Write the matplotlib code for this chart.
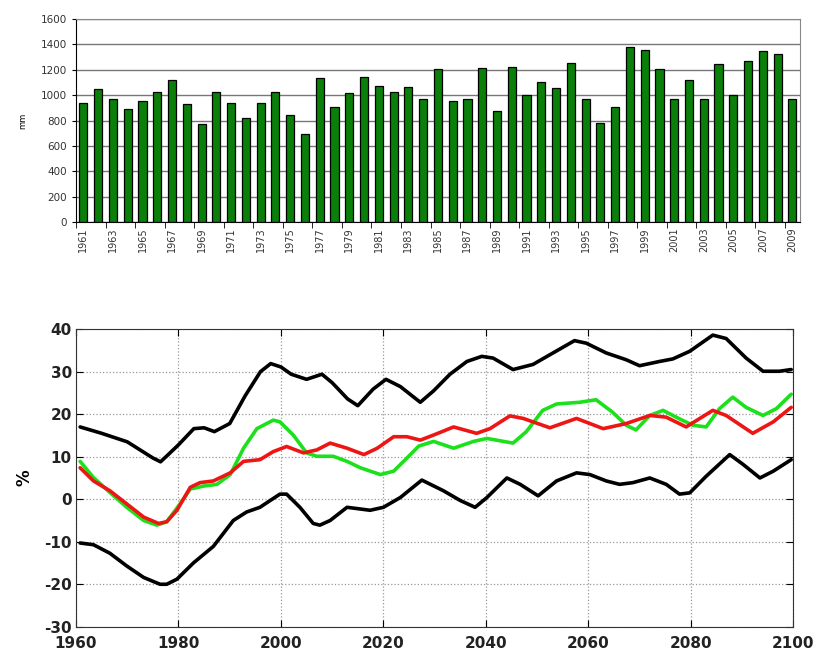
import numpy as np
import matplotlib
matplotlib.use("Agg")
import matplotlib.pyplot as plt

plt.rcParams["axes.unicode_minus"] = False

# ---- top chart: annual precipitation (mm) ----
years = list(range(1961, 2010))
precip = [940, 1045, 971, 895, 955, 1026, 1116, 934, 771, 1024,
          942, 821, 939, 1022, 842, 697, 1134, 908, 1021, 1147,
          1076, 1026, 1066, 971, 1203, 955, 971, 1211, 874, 1224,
          1000, 1105, 1055, 1255, 966, 784, 908, 1379, 1358, 1203,
          971, 1118, 966, 1242, 1000, 1268, 1345, 1324, 971]

# ---- bottom chart: projected change (%) ----
up_yr = [1960.8, 1965, 1970, 1975, 1976.5, 1978, 1980, 1983, 1985, 1987, 1990, 1993,
         1996, 1998, 2000, 2002, 2005, 2008, 2010, 2013, 2015, 2018, 2020.5, 2023.3,
         2027.2, 2029.8, 2033, 2036.3, 2039.2, 2041.4, 2045.3, 2049.2, 2053.1, 2057.3,
         2059.6, 2063.5, 2067.4, 2070, 2073.9, 2076.5, 2079.8, 2084.3, 2086.9, 2090.8,
         2094.1, 2097.3, 2099.6]
up_val = [17, 15.5, 13.5, 9.7, 8.8, 10.5, 12.8, 16.6, 16.8, 15.9, 17.8, 24.3,
          30, 31.9, 31.1, 29.4, 28.2, 29.4, 27.4, 23.6, 22, 25.9, 28.2, 26.5,
          22.8, 25.5, 29.4, 32.4, 33.6, 33.2, 30.5, 31.7, 34.4, 37.3,
          36.7, 34.4, 32.8, 31.4, 32.4, 33, 34.8, 38.6, 37.8, 33.2,
          30.1, 30.1, 30.5]

lo_yr = [1960.8, 1963.4, 1966.6, 1969.9, 1973.2, 1976.4, 1977.7, 1979.7, 1982.9, 1986.8,
         1990.7, 1993.3, 1995.9, 1997.9, 1999.8, 2001.1, 2003.7, 2006.3, 2007.6, 2009.6,
         2012.9, 2015.5, 2017.4, 2020, 2023.3, 2027.5, 2031.7, 2035, 2037.9, 2040.2,
         2044.1, 2046.7, 2050.2, 2053.8, 2057.7, 2060.3, 2063.5, 2066.1, 2068.7, 2072,
         2075.2, 2077.8, 2079.8, 2083, 2087.6, 2090.2, 2093.5, 2096.1, 2099.6]
lo_val = [-10.3, -10.7, -12.7, -15.7, -18.4, -20, -20, -18.8, -15, -11.1,
          -5, -3, -1.9, -0.3, 1.2, 1.2, -1.9, -5.7, -6.1, -5,
          -1.9, -2.3, -2.6, -1.9, 0.4, 4.5, 2, -0.3, -1.9, 0.4,
          5, 3.5, 0.8, 4.3, 6.2, 5.8, 4.3, 3.5, 3.9, 5,
          3.5, 1.2, 1.5, 5.4, 10.5, 8.2, 5, 6.6, 9.3]

gr_yr = [1960.8, 1963.4, 1966.6, 1969.9, 1973.2, 1975.8, 1977.7, 1980.3, 1982.3, 1984.9,
         1987.5, 1990.1, 1992.7, 1995.3, 1998.5, 1999.8, 2002.4, 2005, 2007, 2010.2,
         2012.9, 2015.5, 2019.4, 2022, 2024.6, 2026.9, 2029.8, 2033.7, 2037.6, 2040.2,
         2045.3, 2047.9, 2051.1, 2053.8, 2058.3, 2061.5, 2064.7, 2067.4, 2069.3, 2072,
         2074.6, 2077.8, 2080.4, 2083, 2085.6, 2088.2, 2090.8, 2094.1, 2096.7, 2099.6]
gr_val = [8.9, 5.1, 1.6, -1.9, -5, -6.1, -5.3, -1.1, 2.4, 3.1,
          3.5, 5.8, 12, 16.6, 18.6, 18.2, 15.1, 10.9, 10.1, 10.1,
          8.9, 7.4, 5.8, 6.6, 9.7, 12.5, 13.6, 12, 13.6, 14.3,
          13.2, 15.9, 20.9, 22.4, 22.8, 23.4, 20.5, 17.4, 16.3, 19.7,
          20.9, 18.9, 17.4, 17, 21.3, 24, 21.6, 19.7, 21.3, 24.7]

rd_yr = [1960.8, 1963.4, 1966.6, 1969.9, 1973.2, 1976.1, 1977.7, 1979.7, 1982.3, 1984.2,
         1986.8, 1990.1, 1992.7, 1995.9, 1998.5, 2001.1, 2004.4, 2007, 2009.6, 2012.9,
         2016.2, 2018.8, 2022, 2024.6, 2027.2, 2029.8, 2033.7, 2038.2, 2040.8, 2044.7,
         2047.3, 2052.5, 2057.7, 2062.9, 2067.4, 2072, 2075.2, 2079.1, 2084.3, 2086.9,
         2092.1, 2096.1, 2099.6]
rd_val = [7.4, 4.3, 2, -1.1, -4.2, -5.7, -5.3, -2.6, 2.8, 3.9,
          4.3, 6.2, 8.9, 9.3, 11.2, 12.4, 10.9, 11.6, 13.2, 12,
          10.5, 12, 14.7, 14.7, 13.9, 15.1, 17, 15.5, 16.6, 19.6,
          19, 16.8, 19, 16.6, 17.8, 19.7, 19.3, 17, 20.9, 19.7,
          15.5, 18.2, 21.6]


def draw_bars(ax):
    x = np.arange(len(years))
    ax.bar(x, precip, width=0.55, color="#0a7f0a", edgecolor="black", linewidth=0.9, zorder=3)
    ax.set_xlim(-0.5, len(years) - 0.5)
    ax.set_ylim(0, 1600)
    ax.set_yticks(range(0, 1601, 200))
    ax.tick_params(axis="y", labelsize=7.5, length=3, labelcolor="#333333")
    ax.set_xticks(x[::2])
    ax.set_xticklabels([str(y) for y in years[::2]], rotation=90, fontsize=7, color="#333333")
    ax.set_xticks(np.arange(-0.5, len(years), 2), minor=True)
    ax.tick_params(axis="x", which="major", length=0, pad=4)
    ax.tick_params(axis="x", which="minor", length=4)
    ax.yaxis.grid(True, color="#777777", linewidth=1.0, zorder=0)
    ax.set_axisbelow(True)
    for s in ("top", "right"):
        ax.spines[s].set_color("#888888")
    ax.set_ylabel("mm", fontsize=6, labelpad=10)


def draw_lines(ax):
    lw = 2.6
    ax.plot(up_yr, up_val, color="black", lw=lw, solid_capstyle="round")
    ax.plot(lo_yr, lo_val, color="black", lw=lw, solid_capstyle="round")
    ax.plot(gr_yr, gr_val, color="#1de01d", lw=lw, solid_capstyle="round")
    ax.plot(rd_yr, rd_val, color="#ee1515", lw=lw, solid_capstyle="round")
    ax.set_xlim(1960, 2100)
    ax.set_ylim(-30, 40)
    ax.set_xticks(range(1960, 2101, 20))
    ax.set_yticks(range(-30, 41, 10))
    ax.grid(True, linestyle=":", color="#999999", linewidth=0.9)
    ax.tick_params(direction="in", top=True, right=True, length=5,
                   labelsize=11)
    ax.tick_params(axis="x", pad=6.5)
    ax.tick_params(axis="y", pad=3)
    for lab in ax.get_xticklabels() + ax.get_yticklabels():
        lab.set_fontweight("bold")
        lab.set_color("#222222")
    ax.set_ylabel("%", fontsize=12, fontweight="bold", labelpad=8)
    for s in ax.spines.values():
        s.set_color("#333333")


def main():
    fig = plt.figure(figsize=(8.15, 6.57), dpi=100)
    ax1 = fig.add_axes([0.0933, 0.662, 0.888, 0.309])
    draw_bars(ax1)
    ax2 = fig.add_axes([0.0933, 0.046, 0.880, 0.453])
    draw_lines(ax2)
    fig.savefig("out.png", dpi=100)


if __name__ == "__main__":
    main()
